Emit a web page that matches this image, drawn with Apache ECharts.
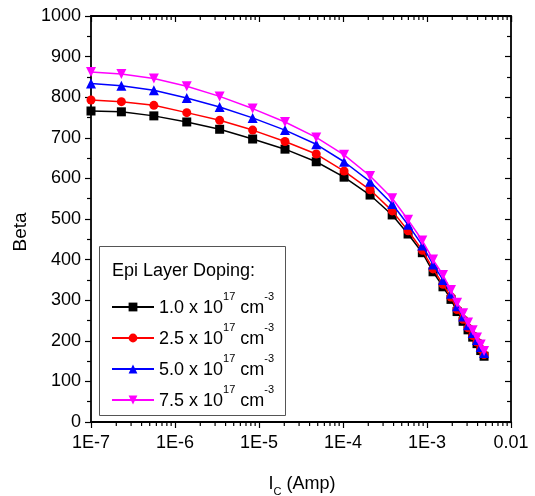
<!DOCTYPE html>
<html><head><meta charset="utf-8">
<script src="https://cdn.jsdelivr.net/npm/echarts@6/dist/echarts.min.js"></script>
<style>html,body{margin:0;padding:0;background:#fff}#c{width:535px;height:496px}</style>
</head><body><div id="c"></div>
<script>
// ---- data ----
const icAmp = [1.0e-7, 2.3e-7, 5.6e-7, 1.38e-6, 3.4e-6, 8.4e-6, 2.04e-5, 4.8e-5, 1.03e-4, 2.1e-4, 3.85e-4, 5.95e-4, 8.8e-4, 1.18e-3, 1.55e-3, 1.93e-3, 2.28e-3, 2.69e-3, 3.08e-3, 3.5e-3, 3.94e-3, 4.36e-3, 4.78e-3];
const beta10 = [766, 764, 754, 739, 721, 697, 672, 641, 603, 559, 510, 463, 417, 370, 333, 302, 272, 248, 227, 209, 193, 176, 162];
const beta25 = [793, 789, 780, 762, 743, 719, 691, 660, 618, 572, 520, 471, 423, 377, 339, 308, 277, 253, 232, 213, 197, 180, 166];
const beta50 = [834, 828, 817, 798, 776, 749, 719, 684, 641, 592, 537, 486, 435, 388, 350, 316, 285, 260, 238, 219, 202, 185, 170];
const beta75 = [862, 857, 846, 827, 802, 772, 739, 701, 658, 606, 551, 498, 447, 400, 362, 325, 294, 268, 245, 226, 208, 191, 175];
const seriesNames = ['1.0', '2.5', '5.0', '7.5'];
const xTickLabels = ['1E-7', '1E-6', '1E-5', '1E-4', '1E-3', '0.01'];
const minorMultipliers = [2, 3, 4, 5, 6, 7, 8, 9];
const decades = [-7, -6, -5, -4, -3];
const legendTitle = 'Epi Layer Doping:';
const xName = 'I';
const xNameSub = 'C';
const xNameRest = ' (Amp)';
const yName = 'Beta';

// ---- chart ----
const FONT = '"Liberation Sans", Arial, sans-serif';
const chart = echarts.init(document.getElementById('c'), null, {renderer: 'canvas'});
const allBeta = [beta10, beta25, beta50, beta75];
const colors = ['#000000', '#ff0000', '#0000ff', '#ff00ff'];
const symbols = ['rect', 'circle', 'triangle', 'path://M0,0 L10,0 L5,9 Z'];
const minorTicks = [];
decades.forEach(d => minorMultipliers.forEach(m => minorTicks.push(m * Math.pow(10, d))));

const lineSeries = seriesNames.map((n, i) => ({
  name: n, type: 'line', xAxisIndex: 0, yAxisIndex: 0,
  data: icAmp.map((x, j) => [x, allBeta[i][j]]),
  symbol: symbols[i], symbolSize: i >= 2 ? 10 : 9,
  itemStyle: {color: colors[i]},
  lineStyle: {color: colors[i], width: 1.5},
  z: 3 + i, animation: false, clip: false
}));

const axisLine = {show: true, onZero: false, lineStyle: {color: '#000', width: 1.8}};
const labelStyle = {color: '#000', fontSize: 18, fontFamily: FONT};

const option = {
  animation: false,
  backgroundColor: '#fff',
  grid: {left: 91, right: 24, top: 16, bottom: 74, containLabel: false},
  xAxis: [{
    type: 'log', logBase: 10, min: 1e-7, max: 0.01, position: 'bottom',
    axisLine, splitLine: {show: false},
    axisTick: {show: true, inside: false, length: 6, lineStyle: {color: '#000', width: 1.2}},
    axisLabel: {...labelStyle, margin: 12, formatter: v => xTickLabels[Math.round(Math.log10(v)) + 7]}
  }, {
    type: 'log', logBase: 10, min: 1e-7, max: 0.01, position: 'top',
    axisLine, splitLine: {show: false},
    axisTick: {show: true, inside: true, length: 6, lineStyle: {color: '#000', width: 1.2}},
    axisLabel: {show: false}
  }],
  yAxis: [{
    type: 'value', min: 0, max: 1000, interval: 100, position: 'left',
    axisLine, splitLine: {show: false},
    axisTick: {show: true, inside: false, length: 6, lineStyle: {color: '#000', width: 1.2}},
    minorTick: {show: true, splitNumber: 2, length: 4, lineStyle: {color: '#000', width: 1.2}},
    axisLabel: {...labelStyle, margin: 10, formatter: v => String(v)}
  }, {
    type: 'value', min: 0, max: 1000, interval: 100, position: 'right',
    axisLine, splitLine: {show: false},
    axisTick: {show: true, inside: true, length: 6, lineStyle: {color: '#000', width: 1.2}},
    minorTick: {show: true, splitNumber: 2, length: 4, lineStyle: {color: '#000', width: 1.2}},
    axisLabel: {show: false}
  }],
  legend: seriesNames.map((n, i) => ({
    data: [n], left: 111, top: 291 + i * 31, orient: 'vertical', padding: 0,
    itemWidth: 42, itemHeight: 11, itemGap: 0, selectedMode: false,
    textStyle: {color: '#000', fontSize: 18, fontFamily: FONT, lineHeight: 26, padding: [0, 0, 6, 0],
      rich: {
        n: {fontSize: 18, fontFamily: FONT, color: '#000', lineHeight: 26, verticalAlign: 'bottom'},
        sup: {fontSize: 11, fontFamily: FONT, color: '#000', verticalAlign: 'top', lineHeight: 12}}},
    formatter: name => '{n|' + name + ' x 10}{sup|17}{n| cm}{sup|-3}'
  })),
  graphic: [
    {type: 'rect', left: 97, top: 244, shape: {width: 186, height: 169}, style: {fill: 'none', stroke: '#555', lineWidth: 1}, z: 10},
    {type: 'text', left: 112, top: 262, style: {text: legendTitle, fill: '#000', font: '18px ' + FONT}, z: 10},
    {type: 'text', x: 21, y: 232, rotation: Math.PI / 2,
      style: {text: yName, fill: '#000', font: '19px ' + FONT, align: 'center', verticalAlign: 'middle'}},
    {type: 'text', x: 302, y: 484,
      style: {text: '{m|' + xName + '}{s|' + xNameSub + '}{m|' + xNameRest + '}', align: 'center', verticalAlign: 'middle',
        rich: {m: {fontSize: 18, fontFamily: FONT, fill: '#000', color: '#000', lineHeight: 26, verticalAlign: 'middle'},
               s: {fontSize: 11, fontFamily: FONT, fill: '#000', color: '#000', lineHeight: 26, verticalAlign: 'bottom'}}}}
  ],
  series: [
    ...lineSeries,
    {
      type: 'custom', xAxisIndex: 0, yAxisIndex: 0, silent: true, clip: false, z: 2,
      data: minorTicks.map(v => [v, 0]),
      renderItem: (params, api) => {
        const v = api.value(0);
        const b = api.coord([v, 0]);
        const t = api.coord([v, 1000]);
        return {type: 'group', children: [
          {type: 'line', shape: {x1: b[0], y1: b[1], x2: b[0], y2: b[1] + 4}, style: {stroke: '#000', lineWidth: 1.2}},
          {type: 'line', shape: {x1: t[0], y1: t[1], x2: t[0], y2: t[1] + 4}, style: {stroke: '#000', lineWidth: 1.2}}
        ]};
      }
    }
  ]
};
chart.setOption(option);
</script></body></html>
